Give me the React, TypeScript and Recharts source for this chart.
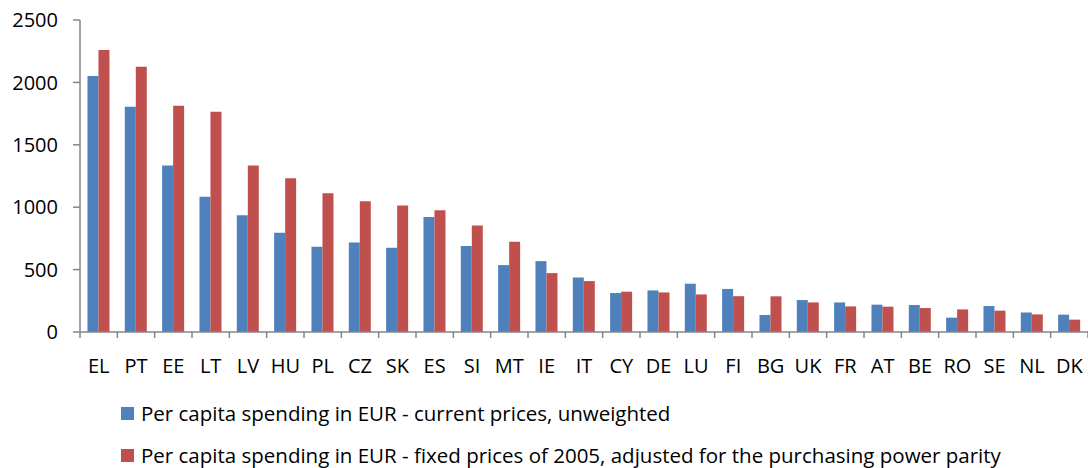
import React from "react";
import { BarChart, Bar, XAxis, YAxis, Legend } from "recharts";

const countries = [
  "EL", "PT", "EE", "LT", "LV", "HU", "PL", "CZ", "SK", "ES", "SI", "MT", "IE", "IT",
  "CY", "DE", "LU", "FI", "BG", "UK", "FR", "AT", "BE", "RO", "SE", "NL", "DK",
];

// current prices, unweighted
const currentPrices = [
  2051, 1805, 1335, 1084, 935, 796, 683, 718, 675, 922, 689, 536, 568, 437,
  312, 333, 387, 345, 136, 256, 237, 219, 216, 115, 208, 157, 139,
];

// fixed 2005 prices, PPP adjusted
const fixedPrices = [
  2259, 2125, 1813, 1765, 1335, 1231, 1111, 1047, 1014, 976, 853, 724, 472, 408,
  323, 317, 301, 287, 286, 237, 205, 203, 192, 181, 171, 141, 99,
];

const yTicks = [0, 500, 1000, 1500, 2000, 2500];

const seriesNames = [
  "Per capita spending in EUR - current prices, unweighted",
  "Per capita spending in EUR - fixed prices of 2005, adjusted for the purchasing power parity",
];

const data = countries.map((c, i) => ({
  country: c,
  current: currentPrices[i],
  fixed: fixedPrices[i],
}));

const FONT = "'Open Sans', Lato, sans-serif";
const FS = 20;
const AXIS = "#868686";
const W = 1088;
const H = 468;
const M = { top: 20, right: 0, left: 8, bottom: 0 };
const Y_W = 72;
const LEGEND_H = 84;

const band = (W - M.left - Y_W - M.right) / countries.length;

function CountryTick(props: any) {
  const { x, y, payload, index } = props;
  const left = x - band / 2;
  return (
    <g>
      <line x1={left} y1={y - 8} x2={left} y2={y - 2} stroke={AXIS} strokeWidth={1.5} />
      {index === countries.length - 1 && (
        <line x1={left + band} y1={y - 8} x2={left + band} y2={y - 2} stroke={AXIS} strokeWidth={1.5} />
      )}
      <text x={x} y={y + 33} textAnchor="middle" fontSize={FS} fill="#000" fontFamily={FONT}>
        {payload.value}
      </text>
    </g>
  );
}

function LegendBox(props: any) {
  const items = props.payload || [];
  return (
    <div style={{ fontFamily: FONT, fontSize: 20.5, color: "#000", textAlign: "left" }}>
      {items.map((it: any) => (
        <div key={it.value} style={{ display: "flex", alignItems: "center", height: 42 }}>
          <span style={{ width: 13, height: 13, background: it.color, marginRight: 7, display: "inline-block" }} />
          <span>{it.value}</span>
        </div>
      ))}
    </div>
  );
}

export default function App() {
  return (
    <div style={{ width: W, height: H, background: "#fff", position: "absolute", left: 0, top: 0 }}>
      <style>{"body{margin:0}"}</style>
      <BarChart
        width={W}
        height={H}
        data={data}
        margin={M}
        barGap={0}
        barCategoryGap="20%"
      >
        <XAxis
          dataKey="country"
          interval={0}
          height={H - LEGEND_H - 332}
          axisLine={{ stroke: AXIS, strokeWidth: 1.5 }}
          tickLine={false}
          tick={<CountryTick />}
        />
        <YAxis
          width={Y_W}
          domain={[0, 2500]}
          ticks={yTicks}
          tickSize={7}
          tickMargin={15}
          axisLine={{ stroke: AXIS, strokeWidth: 1.5 }}
          tickLine={{ stroke: AXIS, strokeWidth: 1.5 }}
          tick={{ fontSize: FS, fill: "#000", fontFamily: FONT }}
        />
        <Legend
          layout="horizontal"
          verticalAlign="bottom"
          align="left"
          height={LEGEND_H}
          content={<LegendBox />}
          wrapperStyle={{ left: 121, top: 392, width: 967 }}
        />
        <Bar dataKey="current" name={seriesNames[0]} fill="#4F81BD" isAnimationActive={false} />
        <Bar dataKey="fixed" name={seriesNames[1]} fill="#C0504D" isAnimationActive={false} />
      </BarChart>
    </div>
  );
}
